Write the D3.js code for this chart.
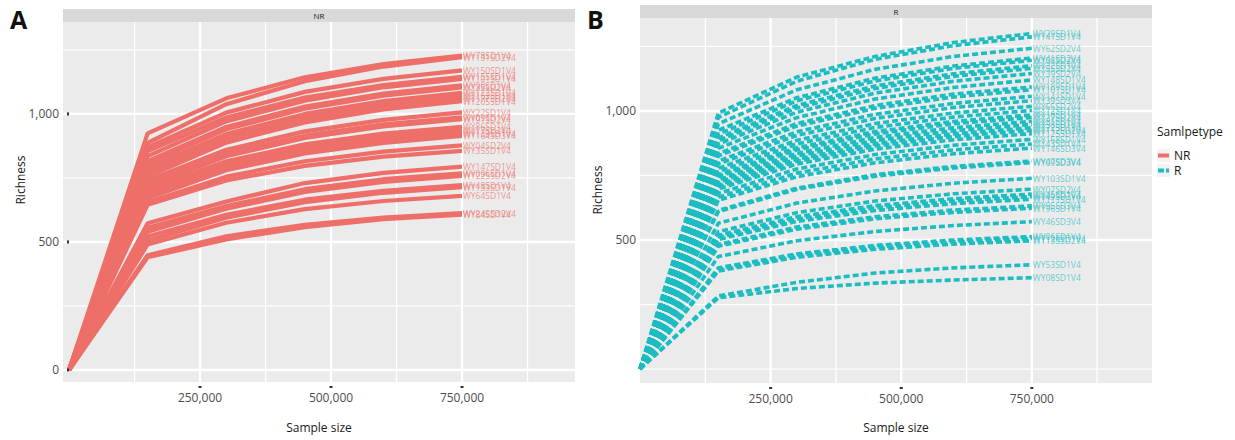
<!DOCTYPE html>
<html>
<head>
<meta charset="utf-8">
<script src="https://cdn.jsdelivr.net/npm/d3@7"></script>
<style>
  body { margin: 0; background: #fff; }
  svg { display: block; font-family: "Open Sans", "DejaVu Sans", sans-serif; }
  .tick-label { font-size: 12px; fill: #4d4d4d; }
  .axes-label { font-size: 12px; fill: #1a1a1a; }
  .strip-label { font-size: 8px; fill: #1a1a1a; }
  .end-label { font-size: 8.5px; }
  .panel-tag { font-size: 25px; font-weight: bold; fill: #111; }
</style>
</head>
<body>
<div id="chart"></div>
<script>
// sequencing depths shared by every curve
const depths = [0, 150000, 300000, 450000, 600000, 750000];

// NR group: sample names and richness at each depth
const nrSamples = [
  'WY78SD1V4', 'WY131SD2V4', 'WY150SD1V4', 'WY155SD1V4', 'WY101SD1V4',
  'WY99SD1V4', 'WY35SD2V4', 'WY112SD1V4', 'WY162SD1V4', 'WY177SD2V4',
  'WY205SD1V4', 'WY22SD1V4', 'WY09SD1V4', 'WY91SD2V4', 'WY86SD1V4',
  'WY17SD2V4', 'WY139SD1V4', 'WY164SD3V4', 'WY04SD2V4', 'WY35SD1V4',
  'WY147SD1V4', 'WY096SD1V4', 'WY225SD2V4', 'WY48SD1V4', 'WY133SD1V4',
  'WY64SD1V4', 'WY245SD2V4', 'WY84SD1V4'
];
const nrValues = [
  [0, 924, 1061, 1143, 1195, 1228],
  [0, 887, 1038, 1128, 1185, 1222],
  [0, 870, 1005, 1086, 1137, 1170],
  [0, 855, 986, 1064, 1113, 1145],
  [0, 835, 971, 1052, 1104, 1137],
  [0, 815, 949, 1029, 1079, 1112],
  [0, 805, 940, 1020, 1071, 1104],
  [0, 790, 921, 1000, 1050, 1082],
  [0, 780, 911, 990, 1040, 1072],
  [0, 765, 899, 979, 1029, 1062],
  [0, 755, 888, 967, 1018, 1050],
  [0, 740, 860, 932, 977, 1006],
  [0, 730, 846, 915, 959, 987],
  [0, 716, 835, 906, 951, 980],
  [0, 705, 815, 881, 923, 950],
  [0, 697, 805, 869, 910, 936],
  [0, 685, 793, 857, 898, 924],
  [0, 671, 780, 846, 887, 914],
  [0, 655, 755, 815, 853, 877],
  [0, 645, 740, 797, 833, 856],
  [0, 573, 658, 730, 770, 794],
  [0, 555, 640, 706, 745, 768],
  [0, 540, 630, 695, 734, 758],
  [0, 521, 606, 665, 700, 722],
  [0, 505, 595, 655, 692, 714],
  [0, 490, 575, 628, 660, 680],
  [0, 448, 522, 567, 595, 613],
  [0, 440, 510, 558, 589, 607]
];

// R group
const rSamples = [
  'WY29SD1V4', 'WY41SD1V4', 'WY62SD2V4', 'WY41SD2V4', 'WY08SD2V4',
  'WY32SD1V4', 'WY55SD2V4', 'WY39SD2V4', 'WY148SD1V4', 'WY189SD1V4',
  'WY101SD1V4', 'WY141SD1V4', 'WY39SD3V4', 'WY65SD2V4', 'WY12SD1V4',
  'WY18SD1V4', 'WY27SD2V4', 'WY31SD1V4', 'WY58SD1V4', 'WY72SD1V4',
  'WY112SD2V4', 'WY125SD1V4', 'WY168SD1V4', 'WY43SD1V4', 'WY146SD3V4',
  'WY47SD3V4', 'WY09SD3V4', 'WY103SD1V4', 'WY07SD2V4', 'WY45SD1V4',
  'WY49SD2V4', 'WY111SD1V4', 'WY95SD3V4', 'WY96SD1V4', 'WY46SD3V4',
  'WY06SD1V4', 'WY126SD1V4', 'WY135SD2V4', 'WY53SD1V4', 'WY08SD1V4'
];
const rValues = [
  [0, 992, 1131, 1211, 1265, 1300],
  [0, 975, 1115, 1200, 1253, 1287],
  [0, 950, 1082, 1161, 1211, 1243],
  [0, 925, 1051, 1127, 1174, 1205],
  [0, 910, 1039, 1116, 1165, 1196],
  [0, 895, 1021, 1097, 1144, 1175],
  [0, 885, 1011, 1087, 1134, 1165],
  [0, 872, 995, 1069, 1115, 1145],
  [0, 855, 974, 1046, 1091, 1120],
  [0, 835, 951, 1021, 1065, 1093],
  [0, 826, 941, 1010, 1054, 1082],
  [0, 806, 919, 987, 1029, 1057],
  [0, 795, 905, 971, 1013, 1040],
  [0, 778, 886, 951, 992, 1018],
  [0, 765, 872, 936, 976, 1002],
  [0, 752, 857, 920, 959, 985],
  [0, 745, 849, 911, 950, 975],
  [0, 733, 835, 897, 935, 960],
  [0, 724, 825, 885, 923, 948],
  [0, 714, 813, 873, 911, 935],
  [0, 706, 805, 864, 901, 925],
  [0, 697, 794, 852, 888, 912],
  [0, 680, 775, 831, 867, 890],
  [0, 666, 759, 814, 849, 872],
  [0, 654, 745, 799, 834, 856],
  [0, 615, 701, 753, 785, 806],
  [0, 610, 696, 747, 779, 800],
  [0, 565, 643, 690, 720, 739],
  [0, 532, 606, 651, 679, 697],
  [0, 518, 590, 633, 660, 678],
  [0, 510, 581, 624, 651, 668],
  [0, 502, 572, 614, 641, 658],
  [0, 483, 550, 590, 616, 632],
  [0, 476, 542, 582, 607, 623],
  [0, 436, 497, 533, 556, 571],
  [0, 392, 446, 479, 500, 513],
  [0, 386, 440, 472, 493, 506],
  [0, 380, 433, 464, 484, 497],
  [0, 283, 336, 372, 392, 404],
  [0, 276, 312, 333, 345, 354]
];

// axis breaks
const xMajor = [250000, 500000, 750000];
const xMinor = [125000, 375000, 625000, 875000];
const groups = ['NR', 'R'];
const groupColors = ['#ee6f69', '#1cbdc2'];
const legendTitle = 'Samlpetype';

const svg = d3.select('#chart').append('svg')
  .attr('width', 1235)
  .attr('height', 440);

function drawPanel(opt) {
  let x = d3.scaleLinear().domain(opt.xDomain).range([opt.left, opt.right]),
      y = d3.scaleLinear().domain(opt.yDomain).range([opt.bottom, opt.top]),
      g = svg.append('g');

  // strip on top
  g.append('rect')
    .attr('x', opt.left).attr('y', opt.stripTop)
    .attr('width', opt.right - opt.left).attr('height', opt.top - opt.stripTop)
    .attr('fill', '#d9d9d9');
  g.append('text')
    .classed('strip-label', true)
    .attr('x', (opt.left + opt.right) / 2)
    .attr('y', (opt.top + opt.stripTop) / 2)
    .attr('text-anchor', 'middle')
    .attr('dominant-baseline', 'central')
    .text(opt.strip);

  // panel background
  g.append('rect')
    .attr('x', opt.left).attr('y', opt.top)
    .attr('width', opt.right - opt.left).attr('height', opt.bottom - opt.top)
    .attr('fill', '#ebebeb');

  // grid lines
  opt.yMinor.forEach(v => g.append('line')
    .attr('x1', opt.left).attr('x2', opt.right)
    .attr('y1', y(v)).attr('y2', y(v))
    .attr('stroke', '#fff').attr('stroke-width', 1.3));
  xMinor.forEach(v => g.append('line')
    .attr('x1', x(v)).attr('x2', x(v))
    .attr('y1', opt.top).attr('y2', opt.bottom)
    .attr('stroke', '#fff').attr('stroke-width', 1.3));
  opt.yMajor.forEach(v => g.append('line')
    .attr('x1', opt.left).attr('x2', opt.right)
    .attr('y1', y(v)).attr('y2', y(v))
    .attr('stroke', '#fff').attr('stroke-width', 2.4));
  xMajor.forEach(v => g.append('line')
    .attr('x1', x(v)).attr('x2', x(v))
    .attr('y1', opt.top).attr('y2', opt.bottom)
    .attr('stroke', '#fff').attr('stroke-width', 2.4));

  // curves
  let line = d3.line()
    .x((d, i) => x(depths[i]))
    .y(d => y(d));

  g.selectAll('path.curve')
    .data(opt.values).enter()
    .append('path')
    .classed('curve', true)
    .attr('d', line)
    .attr('fill', 'none')
    .attr('stroke', opt.color)
    .attr('stroke-width', opt.dashed ? 3.6 : 4.2)
    .attr('stroke-linejoin', 'round')
    .attr('stroke-dasharray', opt.dashed ? '6,3' : null);

  // sample labels at the end of every curve
  g.selectAll('text.end-label')
    .data(opt.values).enter()
    .append('text')
    .classed('end-label', true)
    .attr('x', x(depths[depths.length - 1]) + 1)
    .attr('y', d => y(d[d.length - 1]))
    .attr('dominant-baseline', 'central')
    .attr('fill', opt.color)
    .attr('fill-opacity', 0.7)
    .text((d, i) => opt.names[i]);

  // tick labels and small tick marks
  let fmt = d3.format(',');
  opt.yLabels.forEach(v => {
    g.append('text')
      .classed('tick-label', true)
      .attr('x', opt.left - 4)
      .attr('y', y(v))
      .attr('text-anchor', 'end')
      .attr('dominant-baseline', 'central')
      .text(fmt(v));
    if (opt.yTickX != null) {
      g.append('rect')
        .attr('x', opt.yTickX).attr('y', y(v) - 1.5)
        .attr('width', 2).attr('height', 3)
        .attr('fill', '#333');
    }
  });
  xMajor.forEach(v => {
    g.append('rect')
      .attr('x', x(v) - 1.5).attr('y', opt.bottom + 4)
      .attr('width', 3).attr('height', 2)
      .attr('fill', '#333');
    g.append('text')
      .classed('tick-label', true)
      .attr('x', x(v))
      .attr('y', opt.bottom + 15)
      .attr('text-anchor', 'middle')
      .attr('dominant-baseline', 'central')
      .text(fmt(v));
  });

  // axis titles
  g.append('text')
    .classed('axes-label', true)
    .attr('x', (opt.left + opt.right) / 2)
    .attr('y', 427)
    .attr('text-anchor', 'middle')
    .attr('dominant-baseline', 'central')
    .text('Sample size');
  g.append('text')
    .classed('axes-label', true)
    .attr('transform', `translate(${opt.yTitleX},${opt.yTitleY}) rotate(-90)`)
    .attr('text-anchor', 'middle')
    .attr('dominant-baseline', 'central')
    .text('Richness');

  // panel tag
  g.append('text')
    .classed('panel-tag', true)
    .attr('x', opt.tagX)
    .attr('y', 29)
    .text(opt.tag);
}

drawPanel({
  tag: 'A', tagX: 10, strip: groups[0], names: nrSamples, values: nrValues,
  color: groupColors[0], dashed: false,
  left: 63, right: 575, top: 22, bottom: 382, stripTop: 9,
  xDomain: [-11500, 965600], yDomain: [-47, 1359],
  yMajor: [0, 500, 1000], yMinor: [250, 750, 1250], yLabels: [0, 500, 1000],
  yTickX: 67, yTitleX: 20, yTitleY: 180
});

drawPanel({
  tag: 'B', tagX: 587, strip: groups[1], names: rSamples, values: rValues,
  color: groupColors[1], dashed: true,
  left: 640, right: 1152, top: 18, bottom: 383, stripTop: 5,
  xDomain: [0, 980000], yDomain: [-54, 1360],
  yMajor: [500, 1000], yMinor: [0, 250, 750, 1250], yLabels: [500, 1000],
  yTickX: null, yTitleX: 597, yTitleY: 190
});

// legend
let legend = svg.append('g');
legend.append('text')
  .classed('axes-label', true)
  .attr('x', 1157).attr('y', 131)
  .attr('dominant-baseline', 'central')
  .text(legendTitle);
groups.forEach((grp, i) => {
  let ky = 149 + i * 15;
  legend.append('rect')
    .attr('x', 1157).attr('y', ky)
    .attr('width', 13).attr('height', 13)
    .attr('fill', '#f2f2f2');
  legend.append('line')
    .attr('x1', 1158).attr('x2', 1169)
    .attr('y1', ky + 6.5).attr('y2', ky + 6.5)
    .attr('stroke', groupColors[i])
    .attr('stroke-width', 4)
    .attr('stroke-dasharray', i === 1 ? '6,2' : null);
  legend.append('text')
    .classed('axes-label', true)
    .attr('x', 1174).attr('y', ky + 6.5)
    .attr('dominant-baseline', 'central')
    .text(grp);
});
</script>
</body>
</html>
